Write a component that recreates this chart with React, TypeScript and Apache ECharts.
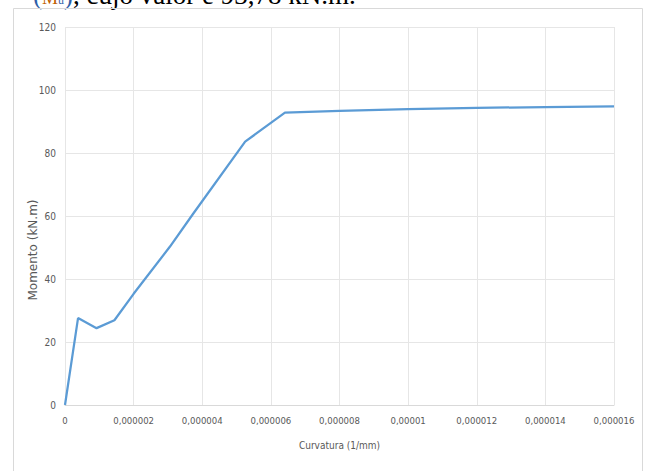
import React, { useEffect, useRef } from "react";
import * as echarts from "echarts";

const curvatura = [0, 0.00000038, 0.00000092, 0.00000144, 0.000002, 0.00000306, 0.00000374, 0.00000525, 0.00000641, 0.000008, 0.00001, 0.000012, 0.000014, 0.000016];
const momento = [0, 27.6, 24.4, 26.9, 35.3, 50.3, 60.8, 83.6, 92.8, 93.4, 93.9, 94.3, 94.6, 94.8];
const xTickLabels = ["0", "0,000002", "0,000004", "0,000006", "0,000008", "0,00001", "0,000012", "0,000014", "0,000016"];
const yTickLabels = ["0", "20", "40", "60", "80", "100", "120"];
const xTitle = "Curvatura (1/mm)";
const yTitle = "Momento (kN.m)";

export default function App() {
  const ref = useRef<HTMLDivElement>(null);
  useEffect(() => {
    if (!ref.current) return;
    const chart = echarts.init(ref.current, null, { renderer: "svg" });
    const narrow = "'Liberation Sans Narrow', 'DejaVu Sans Condensed', sans-serif";
    chart.setOption({
      animation: false,
      backgroundColor: "transparent",
      graphic: [
        {
          type: "rect",
          shape: { x: 13.5, y: 8.5, width: 629, height: 470 },
          style: { fill: "none", stroke: "#d9d9d9", lineWidth: 1 },
          silent: true,
        },
        {
          type: "text",
          x: 33,
          y: 250,
          rotation: Math.PI / 2,
          style: {
            text: yTitle,
            fill: "#595959",
            fontSize: 12,
            fontFamily: "'DejaVu Sans', sans-serif",
            align: "center",
            verticalAlign: "middle",
          },
          silent: true,
        },
      ],
      grid: { left: 65, right: 31, top: 27, bottom: 66 },
      xAxis: {
        type: "value",
        min: 0,
        max: 0.000016,
        interval: 0.000002,
        name: xTitle,
        nameLocation: "middle",
        nameGap: 35,
        nameTextStyle: { color: "#595959", fontSize: 10, fontFamily: narrow },
        axisLine: { show: true, lineStyle: { color: "#d9d9d9" } },
        axisTick: { show: false },
        splitLine: { show: true, lineStyle: { color: "#e6e6e6" } },
        axisLabel: {
          color: "#595959",
          fontSize: 9.5,
          fontFamily: narrow,
          margin: 10,
          formatter: (v: number) => xTickLabels[Math.round(v / 0.000002)] ?? "",
        },
      },
      yAxis: {
        type: "value",
        min: 0,
        max: 120,
        interval: 20,
        axisLine: { show: false },
        axisTick: { show: false },
        splitLine: { show: true, lineStyle: { color: "#e6e6e6" } },
        axisLabel: {
          color: "#595959",
          fontSize: 10,
          fontFamily: narrow,
          margin: 9,
          formatter: (v: number) => yTickLabels[Math.round(v / 20)] ?? "",
        },
      },
      series: [
        {
          type: "line",
          data: curvatura.map((x, i) => [x, momento[i]]),
          showSymbol: false,
          lineStyle: { color: "#5b9bd5", width: 2.25 },
          itemStyle: { color: "#5b9bd5" },
        },
      ],
    });
    return () => chart.dispose();
  }, []);
  return (
    <div style={{ position: "absolute", left: 0, top: 0, width: 645, height: 471, overflow: "hidden", background: "#fff" }}>
      <div
        style={{
          position: "absolute",
          left: 33,
          top: -20,
          fontFamily: "'Liberation Serif', 'DejaVu Serif', serif",
          fontSize: 27,
          lineHeight: "30px",
          color: "#000",
          whiteSpace: "nowrap",
        }}
      >
        <span style={{ color: "#2f5fa8" }}>(</span>
        <span style={{ color: "#c06000", fontSize: 18 }}>M</span>
        <span style={{ color: "#2f5fa8", fontSize: 12 }}>u</span>
        <span style={{ color: "#2f5fa8" }}>)</span>, cujo valor é 93,78 kN.m.
      </div>
      <div ref={ref} style={{ position: "absolute", left: 0, top: 0, width: 645, height: 471 }} />
    </div>
  );
}
